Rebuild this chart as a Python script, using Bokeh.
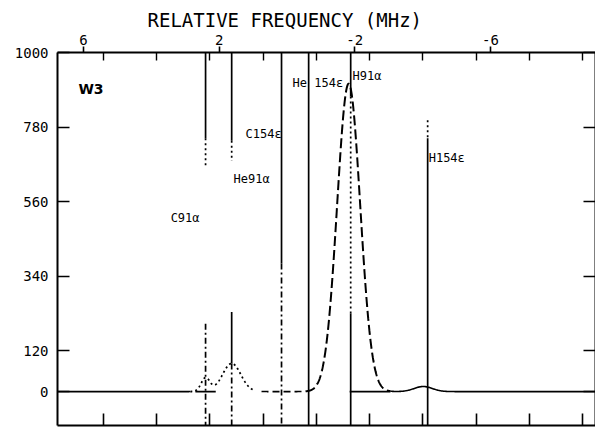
import numpy as np
from bokeh.plotting import figure
from bokeh.models import (Range1d, LinearAxis, FixedTicker, CustomJSTickFormatter,
                          Label, Title, ColumnDataSource)
from bokeh.core.properties import value
from bokeh.embed import file_html
from bokeh.resources import INLINE

# ---------------- data ----------------
top_tick_mhz = [6, 2, -2, -6]
top_tick_labels = ["6", "2", "-2", "-6"]
y_ticks = [0, 120, 340, 560, 780, 1000]
y_tick_labels = ["0", "120", "340", "560", "780", "1000"]
lower_tick_mhz = [5.41, 3.84, 2.27, 0.70, -0.87, -2.44, -4.01, -5.58, -7.15, -8.72]

line_names = ["C91α", "He91α", "C154ε", "He 154ε", "H91α", "H154ε"]
line_freq = [2.40, 1.63, 0.16, -0.64, -1.88, -4.15]

# gaussian components of the fitted profile (centre MHz, peak, sigma MHz)
comp_center = [2.40, 1.63, -1.82, -4.02]
comp_height = [40, 83, 908, 15]
comp_sigma = [0.13, 0.27, 0.34, 0.27]

source_name = "W3"
x_title = "RELATIVE FREQUENCY (MHz)"

# ---------------- layout / style ----------------
X0, X1 = 6.767, -9.10
Y0, Y1 = -100, 1000
FONT = "DejaVu Sans Mono"

dash = {"solid": "solid", "dotted": "2 3", "dashdot": "6 3 2 3",
        "dashed": "7 4", "longdash": "10 4"}

# marker line pieces: (marker index, y from, y to, style)
marker_pieces = [
    (0, 1000, 747, "solid"), (0, 747, 664, "dotted"), (0, 200, -100, "dashdot"),
    (1, 1000, 740, "solid"), (1, 740, 680, "dotted"), (1, 235, 83, "solid"), (1, 83, -100, "dashdot"),
    (2, 1000, 378, "solid"), (2, 378, -100, "dashdot"),
    (3, 1000, -100, "solid"),
    (4, 1000, 870, "solid"), (4, 870, 230, "dotted"), (4, 230, -100, "solid"),
    (5, 800, 747, "dotted"), (5, 747, -100, "solid"),
]
# profile pieces: (from MHz, to MHz, style, width)
spec_pieces = [(X0, 2.85, "solid", 1.6), (2.85, 0.95, "dotted", 1.8),
               (0.75, -0.55, "dashed", 1.6), (-0.55, -3.05, "longdash", 2.0),
               (-3.05, X1, "solid", 1.6)]
zero_pieces = [(2.70, 2.10), (-1.85, -3.05)]

label_x = [3.43, 1.575, 1.22, -0.165, -1.935, -4.18]
label_y = [513, 628, 761, 911, 932, 690]

p = figure(width=595, height=427, output_backend="svg", toolbar_location=None,
           x_range=Range1d(X0, X1), y_range=Range1d(Y0, Y1),
           min_border_left=57, min_border_right=0, min_border_top=52, min_border_bottom=2,
           background_fill_color="white", border_fill_color="white")
p.outline_line_color = None
p.grid.visible = False

empty = CustomJSTickFormatter(code="return ''")

# bottom axis: unlabeled inward ticks
xa = p.xaxis[0]
xa.ticker = FixedTicker(ticks=lower_tick_mhz)
xa.formatter = empty
xa.major_label_text_font_size = "0px"
xa.major_label_standoff = 0
xa.major_tick_in = 12
xa.major_tick_out = 0
xa.minor_tick_in = 0
xa.minor_tick_out = 0
xa.axis_line_width = 2
xa.major_tick_line_width = 1.6

# left axis
ya = p.yaxis[0]
ya.ticker = FixedTicker(ticks=y_ticks)
ya.major_label_overrides = {t: l for t, l in zip(y_ticks, y_tick_labels)}
ya.major_tick_in = 12
ya.major_tick_out = 0
ya.minor_tick_in = 0
ya.minor_tick_out = 0
ya.major_label_standoff = 9
ya.major_label_text_font = FONT
ya.major_label_text_font_size = "14px"
ya.major_label_text_color = "black"
ya.axis_line_width = 2
ya.major_tick_line_width = 1.6

# top axis
ta = LinearAxis(ticker=FixedTicker(ticks=top_tick_mhz, minor_ticks=lower_tick_mhz))
ta.major_label_overrides = {t: l for t, l in zip(top_tick_mhz, top_tick_labels)}
ta.major_tick_out = 6
ta.major_tick_in = 0
ta.minor_tick_in = 8
ta.minor_tick_out = 0
ta.major_label_standoff = 2
ta.major_label_text_font = FONT
ta.major_label_text_font_size = "14px"
ta.major_label_text_color = "black"
ta.axis_line_width = 2
ta.major_tick_line_width = 1.6
ta.minor_tick_line_width = 1.4
p.add_layout(ta, "above")

# title above the top axis, shifted to where it sits in the figure
p.add_layout(Title(text=x_title, align="left", offset=90, standoff=2,
                   text_font=FONT, text_font_size="19px", text_font_style="normal",
                   text_color="black"), "above")

# right axis: unlabeled inward ticks
ra = LinearAxis(ticker=FixedTicker(ticks=y_ticks), formatter=empty)
ra.major_label_text_font_size = "0px"
ra.major_label_standoff = 0
ra.major_tick_in = 12
ra.major_tick_out = 0
ra.minor_tick_in = 0
ra.minor_tick_out = 0
ra.axis_line_width = 2
ra.major_tick_line_width = 1.6
p.add_layout(ra, "right")

# vertical marker lines
for style in dash:
    pcs = [m for m in marker_pieces if m[3] == style]
    if not pcs:
        continue
    src = ColumnDataSource(dict(x=[line_freq[m[0]] for m in pcs],
                                y0=[m[1] for m in pcs], y1=[m[2] for m in pcs]))
    p.segment(x0="x", y0="y0", x1="x", y1="y1", source=src, line_color="black",
              line_width=1.7, line_dash=dash[style])

# zero line pieces
for a, b in zero_pieces:
    p.line([a, b], [0, 0], line_color="black", line_width=1.6)

# fitted profile
def profile(x):
    y = np.zeros_like(x)
    for c, h, s in zip(comp_center, comp_height, comp_sigma):
        y += h * np.exp(-0.5 * ((x - c) / s) ** 2)
    return y

for a, b, style, w in spec_pieces:
    xs = np.linspace(a, b, 300)
    p.line(xs, profile(xs), line_color="black", line_width=w, line_dash=dash[style])

# line labels
lab = ColumnDataSource(dict(x=label_x, y=label_y, t=line_names))
p.text(x="x", y="y", text="t", source=lab, text_font=value(FONT), text_font_size="12px",
       text_baseline="middle", text_align="left", text_color="black")

p.add_layout(Label(x=6.15, y=891, text=source_name, text_font="DejaVu Sans",
                   text_font_style="bold", text_font_size="14px",
                   text_baseline="middle", text_align="left", text_color="black"))

open("out.html", "w").write(file_html(p, INLINE))
